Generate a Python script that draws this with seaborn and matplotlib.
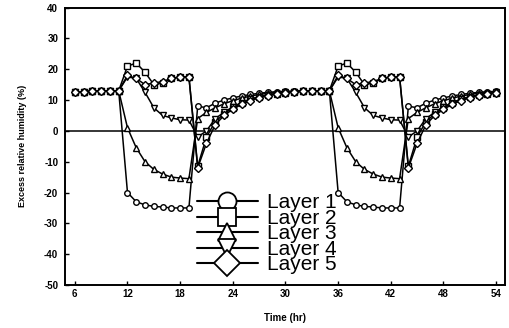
import numpy as np
import pandas as pd
import matplotlib
matplotlib.use("Agg")
import matplotlib.pyplot as plt
import seaborn as sns

# ---- data ----
time_hr = list(range(6, 55))

layer1 = [12.5, 12.7, 12.8, 12.9, 13.0, 13.0,
          -20.0, -23.0, -24.0, -24.5, -24.7, -25.0, -25.0, -25.0,
          8.0, 7.5, 9.0, 10.0, 10.7, 11.3, 11.8, 12.2, 12.5, 12.7,
          12.8, 12.9, 13.0, 13.0, 13.0, 13.0,
          -20.0, -23.0, -24.0, -24.5, -24.7, -25.0, -25.0, -25.0,
          8.0, 7.5, 9.0, 10.0, 10.7, 11.3, 11.8, 12.2, 12.5, 12.7,
          12.8]
layer2 = [12.5, 12.7, 12.8, 12.9, 13.0, 13.0,
          21.0, 22.0, 19.0, 15.0, 15.5, 17.0, 17.5, 17.5,
          -11.5, -2.0, 3.0, 5.5, 7.5, 9.0, 10.2, 11.0, 11.6, 12.1,
          12.4, 12.7, 12.9, 13.0, 13.0, 13.0,
          21.0, 22.0, 19.0, 15.0, 15.5, 17.0, 17.5, 17.5,
          -11.5, -2.0, 3.0, 5.5, 7.5, 9.0, 10.2, 11.0, 11.6, 12.1,
          12.4]
layer3 = [12.5, 12.7, 12.8, 12.9, 13.0, 13.0,
          1.0, -5.5, -10.0, -12.5, -14.0, -15.0, -15.3, -15.5,
          4.0, 6.0, 7.5, 8.8, 9.8, 10.6, 11.3, 11.8, 12.2, 12.5,
          12.7, 12.8, 12.9, 13.0, 13.0, 13.0,
          1.0, -5.5, -10.0, -12.5, -14.0, -15.0, -15.3, -15.5,
          4.0, 6.0, 7.5, 8.8, 9.8, 10.6, 11.3, 11.8, 12.2, 12.5,
          12.7]
layer4 = [12.5, 12.7, 12.8, 12.9, 13.0, 13.0,
          17.5, 17.0, 12.5, 7.5, 5.0, 4.2, 3.6, 3.5,
          -2.0, 0.0, 4.0, 6.0, 7.8, 9.2, 10.3, 11.1, 11.7, 12.1,
          12.5, 12.7, 12.9, 13.0, 13.0, 13.0,
          17.5, 17.0, 12.5, 7.5, 5.0, 4.2, 3.6, 3.5,
          -2.0, 0.0, 4.0, 6.0, 7.8, 9.2, 10.3, 11.1, 11.7, 12.1,
          12.5]
layer5 = [12.5, 12.7, 12.8, 12.9, 13.0, 13.0,
          18.0, 17.0, 15.0, 15.5, 16.0, 17.0, 17.5, 17.5,
          -12.0, -4.0, 2.0, 5.0, 7.0, 8.6, 9.8, 10.7, 11.4, 11.9,
          12.3, 12.6, 12.8, 13.0, 13.0, 13.0,
          18.0, 17.0, 15.0, 15.5, 16.0, 17.0, 17.5, 17.5,
          -12.0, -4.0, 2.0, 5.0, 7.0, 8.6, 9.8, 10.7, 11.4, 11.9,
          12.3]

layer_names = ["Layer 1", "Layer 2", "Layer 3", "Layer 4", "Layer 5"]
layer_values = [layer1, layer2, layer3, layer4, layer5]
layer_markers = ["o", "s", "^", "v", "D"]

x_ticks = [6, 12, 18, 24, 30, 36, 42, 48, 54]
y_ticks = [40, 30, 20, 10, 0, -10, -20, -30, -40, -50]

# ---- figure ----
sns.set_style("ticks")
plt.rcParams["font.family"] = ["Liberation Sans", "DejaVu Sans"]
for k in ["text.color", "axes.labelcolor", "xtick.color", "ytick.color", "axes.edgecolor"]:
    plt.rcParams[k] = "black"

fig = plt.figure(figsize=(5.09, 3.28), dpi=100)
ax = fig.add_axes([0.128, 0.131, 0.864, 0.846])

for name, vals, mk in zip(layer_names, layer_values, layer_markers):
    df = pd.DataFrame({"t": time_hr, "v": vals})
    sns.lineplot(data=df, x="t", y="v", ax=ax, color="black", lw=1.1,
                 marker=mk, markersize=4, markerfacecolor="white",
                 markeredgecolor="black", markeredgewidth=1.0, label=name)

ax.axhline(0, color="black", lw=1.1, zorder=0)

ax.set_xlim(4.9, 55.0)
ax.set_ylim(-50, 40)
ax.set_xticks(x_ticks)
ax.set_yticks(y_ticks)
ax.set_xticklabels([str(v) for v in x_ticks], fontsize=7, fontweight="bold")
ax.set_yticklabels([str(v) for v in y_ticks], fontsize=7, fontweight="bold")
ax.tick_params(direction="in", length=3, width=1, pad=5, colors="black")
ax.tick_params(axis="x", pad=3)
for sp in ax.spines.values():
    sp.set_linewidth(1.4)
    sp.set_visible(True)
    sp.set_color("black")

ax.set_xlabel("Time (hr)", fontsize=7, fontweight="bold", labelpad=10)
ax.set_ylabel("Excess relative humidity (%)", fontsize=6.5, fontweight="bold", labelpad=12)

leg = ax.legend(loc="upper left", bbox_to_anchor=(0.30, 0.33), frameon=False,
                prop={"family": ["Liberation Sans Narrow", "Liberation Sans"], "size": 15},
                handlelength=2.9, handletextpad=0.45, labelspacing=-0.17,
                borderaxespad=0, borderpad=0)
for h in leg.legend_handles:
    h.set_markersize(13)
    h.set_linewidth(1.5)
    h.set_markeredgewidth(1.3)
for t in leg.get_texts():
    t.set_color("black")

fig.savefig("out.png", dpi=100)
